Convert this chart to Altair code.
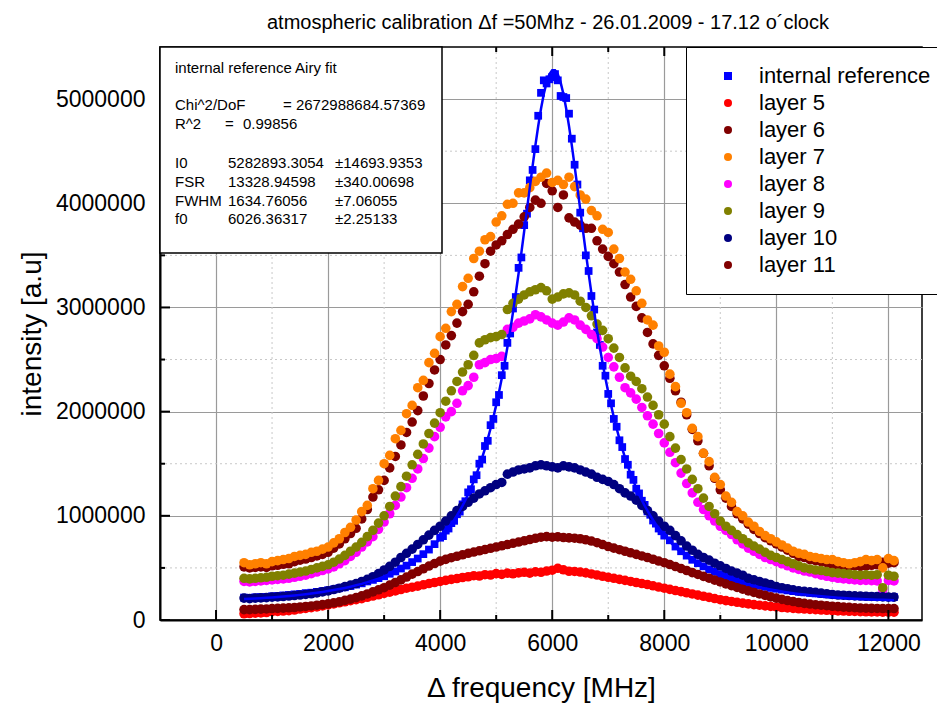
import altair as alt
import pandas as pd

FONT = "Liberation Sans"

# ---------------- data (intensities in thousands of a.u.) ----------------
freq_layers = list(range(500, 12101, 100))
freq_ref = list(range(500, 4000, 100)) + list(range(4000, 8001, 50)) + list(range(8100, 12101, 100))

internal_reference = [
    215, 212, 218, 220, 222, 228, 230, 236, 240, 246, 250, 258, 262, 270, 278, 286, 294, 305, 314, 326,
    340, 352, 370, 385, 402, 420, 444, 466, 494, 522, 556, 590, 632, 676, 728,
    790, 805, 858, 878, 930, 952, 1015, 1040, 1110, 1140, 1225, 1255, 1350, 1390, 1500, 1540, 1670, 1720,
    1870, 1930, 2090, 2160, 2350, 2440, 2660, 2750, 2990, 3100, 3380, 3480, 3790, 3900, 4220, 4320, 4520,
    4840, 5060, 5180, 5150, 5190, 5210,
    5240, 5180, 5030, 5020, 5010, 4860, 4620, 4370, 4180, 3910, 3760, 3500, 3350, 3110, 2980, 2760, 2640,
    2440, 2345, 2170, 2080, 1930, 1855, 1725, 1660, 1545, 1490, 1395, 1345, 1260, 1215, 1145, 1105, 1042,
    1010, 955, 925, 878, 852, 810,
    765, 705, 660, 618, 578, 545, 515, 486, 462, 440, 420, 400, 384, 368, 354, 342, 330, 318, 308, 300,
    292, 284, 277, 270, 265, 260, 255, 250, 246, 242, 238, 235, 232, 230, 228, 226, 225, 224, 222, 222, 220,
]

airy_fit = [
    200.4, 203.1, 206.0, 209.2, 212.7, 216.5, 220.6, 225.1, 230.0, 235.3, 241.1, 247.3, 254.1, 261.4,
    269.3, 277.8, 287.1, 297.1, 308.0, 319.9, 332.7, 346.7, 362.0, 378.7, 396.9, 416.9, 438.9, 463.0,
    489.7, 519.1, 551.8, 588.1, 628.6, 673.9, 724.7,
    781.9, 813.2, 846.5, 881.9, 919.8, 960.1, 1003.1, 1049.1, 1098.3, 1151.0, 1207.4, 1267.9, 1332.9,
    1402.7, 1477.6, 1558.2, 1644.9, 1738.2, 1838.5, 1946.4, 2062.4, 2187.1, 2320.8, 2464.1, 2617.2,
    2780.2, 2953.2, 3135.8, 3327.3, 3526.6, 3732.0, 3941.0, 4150.5, 4356.8, 4555.1, 4740.4, 4906.8,
    5048.7, 5160.7, 5238.3, 5277.9,
    5277.9, 5238.3, 5160.7, 5048.7, 4906.8, 4740.4, 4555.1, 4356.8, 4150.5, 3941.0, 3732.0, 3526.6,
    3327.3, 3135.8, 2953.2, 2780.2, 2617.2, 2464.1, 2320.8, 2187.1, 2062.4, 1946.4, 1838.5, 1738.2,
    1644.9, 1558.2, 1477.6, 1402.7, 1332.9, 1267.9, 1207.4, 1151.0, 1098.3, 1049.1, 1003.1, 960.1,
    919.8, 881.9, 846.5, 813.2,
    752.4, 698.5, 650.6, 607.8, 569.5, 535.0, 504.0, 476.0, 450.7, 427.6, 406.7, 387.6, 370.2, 354.2,
    339.6, 326.2, 313.8, 302.5, 292.0, 282.4, 273.5, 265.2, 257.6, 250.6, 244.2, 238.2, 232.6, 227.5,
    222.8, 218.5, 214.5, 210.9, 207.5, 204.5, 201.7, 199.2, 197.0, 195.0, 193.2, 191.6, 190.3,
]

layer_5 = [
    60, 62, 65, 68, 72, 80, 82, 86, 90, 96,
    105, 112, 118, 125, 135, 145, 155, 165, 175, 185,
    195, 205, 218, 230, 242, 255, 268, 280, 292, 305,
    315, 325, 338, 350, 360, 370, 380, 390, 398, 408,
    415, 425, 422, 435, 432, 445, 438, 450, 444, 452,
    458, 450, 462, 458, 470, 478, 496, 482, 468, 466,
    460, 452, 442, 432, 420, 410, 400, 390, 380, 370,
    360, 350, 340, 328, 316, 305, 294, 283, 272, 261,
    250, 239, 228, 217, 206, 195, 186, 178, 170, 162,
    155, 148, 142, 136, 130, 125, 120, 116, 112, 108,
    105, 102, 99, 96, 93, 90, 88, 86, 84, 82,
    80, 79, 78, 77, 76, 75, 75,
]

layer_6 = [
    510, 500, 505, 510, 505, 520, 525, 535, 540, 560,
    575, 585, 600, 615, 630, 650, 690, 730, 780, 830,
    880, 970, 1060, 1180, 1250, 1340, 1460, 1570, 1680, 1800,
    1900, 2010, 2150, 2270, 2400, 2500, 2640, 2730, 2850, 2960,
    3030, 3150, 3300, 3420, 3540, 3600, 3640, 3700, 3750, 3800,
    3870, 3960, 4030, 4000, 4190, 4120, 3960, 4080, 3860, 3820,
    3790, 3760, 3760, 3640, 3560, 3490, 3420, 3340, 3220, 3100,
    3010, 2900, 2760, 2650, 2540, 2440, 2320, 2200, 2090, 1970,
    1830, 1720, 1600, 1480, 1360, 1250, 1170, 1090, 1020, 970,
    920, 870, 830, 790, 760, 730, 700, 670, 640, 610,
    600, 580, 570, 560, 550, 530, 525, 520, 515, 520,
    515, 520, 525, 530, 555, 545, 550,
]

layer_7 = [
    550, 530, 540, 550, 540, 560, 570, 580, 590, 610,
    620, 630, 650, 660, 680, 700, 740, 780, 840, 890,
    960, 1040, 1100, 1260, 1340, 1500, 1580, 1740, 1820, 1980,
    2060, 2230, 2300, 2470, 2560, 2720, 2800, 2960, 3030, 3200,
    3280, 3470, 3540, 3650, 3680, 3820, 3880, 3990, 4000, 4100,
    4100, 4150, 4210, 4250, 4290, 4200, 4220, 4180, 4250, 4160,
    4080, 4040, 3930, 3880, 3750, 3720, 3560, 3470, 3340, 3270,
    3160, 3040, 2880, 2830, 2630, 2570, 2360, 2240, 2080, 1990,
    1840, 1760, 1600, 1520, 1370, 1300, 1190, 1130, 1040, 1000,
    940, 900, 850, 810, 780, 750, 720, 690, 660, 640,
    630, 610, 600, 590, 580, 580, 560, 550, 540, 550,
    560, 580, 570, 580, 500, 590, 570,
]

layer_8 = [
    370, 365, 370, 375, 380, 385, 390, 395, 400, 410,
    420, 430, 445, 460, 475, 490, 510, 540, 570, 610,
    650, 700, 750, 800, 870, 940, 1020, 1100, 1180, 1270,
    1360, 1450, 1550, 1650, 1760, 1850, 1950, 2000, 2080, 2200,
    2250, 2330, 2450, 2470, 2500, 2510, 2530, 2790, 2810, 2850,
    2870, 2890, 2930, 2910, 2880, 2850, 2830, 2860, 2900, 2880,
    2830, 2790, 2740, 2700, 2620, 2520, 2430, 2330, 2230, 2180,
    2120, 2040, 1960, 1880, 1790, 1700, 1610, 1510, 1410, 1310,
    1220, 1130, 1060, 1000, 950, 900, 860, 820, 770, 730,
    690, 660, 630, 600, 580, 560, 540, 520, 500, 485,
    470, 460, 445, 430, 420, 410, 400, 395, 390, 385,
    380, 380, 378, 375, 290, 380, 375,
]

layer_9 = [
    400, 395, 400, 405, 410, 420, 425, 430, 440, 450,
    460, 470, 485, 500, 515, 530, 555, 585, 620, 660,
    700, 745, 800, 860, 930, 1000, 1090, 1190, 1280, 1380,
    1490, 1590, 1690, 1790, 1890, 1990, 2100, 2200, 2290, 2380,
    2450, 2540, 2660, 2690, 2710, 2720, 2740, 2980, 3040, 3080,
    3120, 3150, 3170, 3190, 3160, 3080, 3100, 3130, 3140, 3120,
    3060, 3000, 2920, 2840, 2780, 2700, 2610, 2520, 2420, 2340,
    2290, 2220, 2140, 2060, 1970, 1880, 1760, 1650, 1540, 1450,
    1350, 1260, 1170, 1090, 1020, 950, 900, 860, 820, 780,
    740, 710, 680, 650, 620, 600, 580, 560, 540, 520,
    500, 490, 480, 475, 465, 455, 450, 445, 440, 435,
    430, 435, 430, 435, 310, 430, 420,
]

layer_10 = [
    210, 205, 210, 212, 215, 220, 222, 225, 230, 235,
    240, 245, 252, 260, 270, 280, 292, 305, 320, 335,
    350, 370, 390, 415, 445, 480, 515, 555, 600, 640,
    680, 725, 770, 815, 860, 900, 950, 1000, 1050, 1090,
    1130, 1170, 1210, 1240, 1270, 1300, 1320, 1400, 1420, 1440,
    1450, 1460, 1480, 1490, 1480, 1470, 1460, 1480, 1470, 1460,
    1440, 1420, 1400, 1370, 1350, 1330, 1300, 1260, 1220, 1190,
    1150, 1100, 1050, 1000, 950, 900, 860, 810, 760, 710,
    670, 630, 600, 575, 545, 520, 495, 470, 450, 430,
    400, 385, 370, 355, 340, 320, 310, 300, 290, 280,
    275, 270, 265, 258, 252, 245, 240, 238, 235, 232,
    230, 228, 226, 224, 222, 220, 220,
]

layer_11 = [
    100, 100, 102, 104, 106, 110, 112, 114, 117, 120,
    125, 130, 135, 142, 148, 155, 165, 175, 188, 200,
    215, 232, 250, 270, 290, 310, 335, 360, 385, 412,
    440, 465, 492, 518, 542, 565, 582, 598, 612, 626,
    640, 652, 664, 676, 688, 700, 712, 724, 736, 748,
    760, 772, 784, 795, 800, 795, 798, 792, 788, 785,
    780, 770, 758, 742, 724, 705, 690, 675, 660, 645,
    630, 615, 600, 583, 566, 550, 532, 513, 494, 475,
    455, 437, 419, 401, 383, 365, 347, 330, 313, 296,
    280, 265, 250, 236, 222, 210, 198, 187, 177, 168,
    160, 153, 147, 142, 137, 132, 128, 124, 121, 118,
    115, 113, 112, 111, 110, 110, 110,
]

series_names = ["internal reference", "layer 5", "layer 6", "layer 7",
                "layer 8", "layer 9", "layer 10", "layer 11"]
series_colors = ["#0000ff", "#ff0000", "#800000", "#ff8000",
                 "#ff00ff", "#808000", "#000080", "#800000"]
series_shapes = ["square"] + ["circle"] * 7

x_major = [0, 2000, 4000, 6000, 8000, 10000, 12000]
x_minor = [1000, 3000, 5000, 7000, 9000, 11000]
y_major = [0, 1000000, 2000000, 3000000, 4000000, 5000000]
y_minor = [500000, 1500000, 2500000, 3500000, 4500000]

# ---------------- tables ----------------
layer_values = [layer_5, layer_6, layer_7, layer_8, layer_9, layer_10, layer_11]
rows = []
for f, v in zip(freq_ref, internal_reference):
    rows.append({"series": series_names[0], "freq": f, "intensity": v * 1000})
for name, vals in zip(series_names[1:], layer_values):
    for f, v in zip(freq_layers, vals):
        rows.append({"series": name, "freq": f, "intensity": v * 1000})
df_points = pd.DataFrame(rows)
df_fit = pd.DataFrame({"freq": freq_ref, "intensity": [v * 1000 for v in airy_fit]})

W, H = 762, 573

x_scale = alt.Scale(domain=[-1000, 12600], nice=False, zero=False)
y_scale = alt.Scale(domain=[0, 5500000], nice=False, zero=False)

axis_common = dict(
    format="d", grid=True, gridColor="#9a9a9a", gridWidth=1.2, ticks=False,
    labelFont=FONT, labelFontSize=23, labelColor="black",
    titleFont=FONT, titleFontSize=28, titleFontWeight="normal", titleColor="black",
    domainColor="black", domainWidth=2,
)
x_enc = alt.X("freq:Q", scale=x_scale, title="Δ frequency [MHz]",
              axis=alt.Axis(values=x_major, labelPadding=12, titlePadding=19, **axis_common))
y_enc = alt.Y("intensity:Q", scale=y_scale, title="intensity [a.u]",
              axis=alt.Axis(values=y_major, labelPadding=15, titlePadding=9, **axis_common))

legend = alt.Legend(
    orient="none", legendX=526, legendY=0, title=None,
    labelFont=FONT, labelFontSize=22, labelColor="black", labelLimit=400,
    symbolSize=64, symbolStrokeWidth=0, padding=18, symbolOffset=13,
    labelOffset=20, rowPadding=5, strokeColor="black", fillColor="white",
)

minor_x = alt.Chart(pd.DataFrame({"freq": x_minor})).mark_rule(
    color="#c8c8c8", strokeDash=[2, 3], strokeWidth=1).encode(x=x_enc)
minor_y = alt.Chart(pd.DataFrame({"intensity": y_minor})).mark_rule(
    color="#c8c8c8", strokeDash=[2, 3], strokeWidth=1).encode(y=y_enc)

points = alt.Chart(df_points).mark_point(filled=True, opacity=1, strokeWidth=0).encode(
    x=x_enc,
    y=y_enc,
    color=alt.Color("series:N", scale=alt.Scale(domain=series_names, range=series_colors), legend=legend),
    shape=alt.Shape("series:N", scale=alt.Scale(domain=series_names, range=series_shapes), legend=legend),
    size=alt.condition(alt.datum.series == "internal reference", alt.value(60), alt.value(92)),
)

fit_line = alt.Chart(df_fit).mark_line(color="#0000ff", strokeWidth=2.5).encode(x=x_enc, y=y_enc)

df_xmaj = pd.DataFrame({"freq": x_major})
df_xmin = pd.DataFrame({"freq": x_minor})
df_ymaj = pd.DataFrame({"intensity": y_major})
df_ymin = pd.DataFrame({"intensity": y_minor})
tick_style = dict(color="black", strokeWidth=2)
ticks = [
    alt.Chart(df_xmaj).mark_rule(**tick_style).encode(x=x_enc, y=alt.value(H), y2=alt.value(H - 10)),
    alt.Chart(df_xmin).mark_rule(**tick_style).encode(x=x_enc, y=alt.value(H), y2=alt.value(H - 5)),
    alt.Chart(df_xmaj).mark_rule(**tick_style).encode(x=x_enc, y=alt.value(0), y2=alt.value(9)),
    alt.Chart(df_xmin).mark_rule(**tick_style).encode(x=x_enc, y=alt.value(0), y2=alt.value(5)),
    alt.Chart(df_ymaj).mark_rule(**tick_style).encode(y=y_enc, x=alt.value(0), x2=alt.value(10)),
    alt.Chart(df_ymin).mark_rule(**tick_style).encode(y=y_enc, x=alt.value(0), x2=alt.value(5)),
]

one = pd.DataFrame({"a": [0]})
box = alt.Chart(one).mark_rect(fill="white", stroke="black", strokeWidth=1.5).encode(
    x=alt.value(0), x2=alt.value(282), y=alt.value(0), y2=alt.value(206))

annotations = [
    ("internal reference Airy fit", 15, 21),
    ("Chi^2/DoF", 15, 58), ("= 2672988684.57369", 123, 58),
    ("R^2", 15, 77), ("=", 65, 77), ("0.99856", 83, 77),
    ("I0", 15, 116), ("5282893.3054", 68, 116), ("±14693.9353", 175, 116),
    ("FSR", 15, 135), ("13328.94598", 68, 135), ("±340.00698", 175, 135),
    ("FWHM", 15, 154), ("1634.76056", 68, 154), ("±7.06055", 175, 154),
    ("f0", 15, 172), ("6026.36317", 68, 172), ("±2.25133", 175, 172),
]
texts = [
    alt.Chart(one).mark_text(text=t, align="left", baseline="middle", font=FONT,
                             fontSize=15, color="black").encode(x=alt.value(px), y=alt.value(py))
    for t, px, py in annotations
]

chart = alt.layer(minor_x, minor_y, points, fit_line, *ticks, box, *texts).properties(
    width=W, height=H,
    title=alt.TitleParams("atmospheric calibration Δf =50Mhz - 26.01.2009 - 17.12 o´clock",
                          font=FONT, fontSize=20, fontWeight="normal", color="black",
                          anchor="middle", frame="group", offset=13, dx=7),
    autosize=alt.AutoSizeParams(type="none"),
    padding={"left": 160, "top": 47, "right": 15, "bottom": 83},
    background="white",
).configure_view(stroke="black", strokeWidth=1.5)

chart.save("out.html", embed_options={"renderer": "svg", "actions": False})
